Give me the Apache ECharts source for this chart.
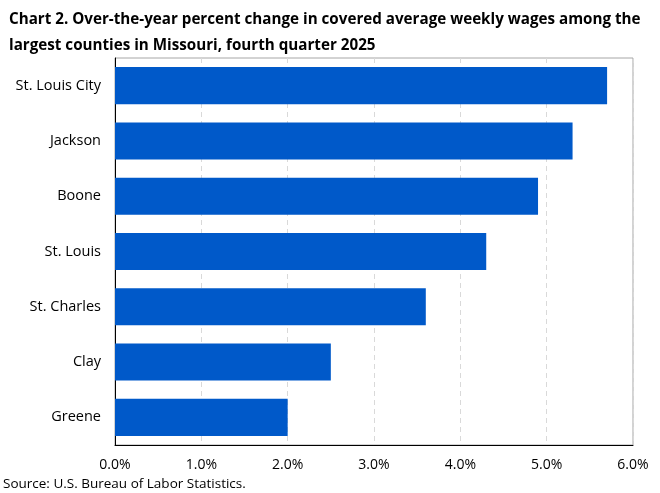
<!DOCTYPE html>
<html>
<head>
<meta charset="utf-8">
<script src="https://cdn.jsdelivr.net/npm/echarts@6/dist/echarts.min.js"></script>
<style>
  html, body { margin: 0; padding: 0; background: #fff; }
  #chart { width: 660px; height: 493px; }
</style>
</head>
<body>
<div id="chart"></div>
<script>
// counties, top to bottom as drawn
var counties = ['St. Louis City', 'Jackson', 'Boone', 'St. Louis', 'St. Charles', 'Clay', 'Greene'];
var wageChange = [5.7, 5.3, 4.9, 4.3, 3.6, 2.5, 2.0];

var font = '"Open Sans", "Noto Sans", sans-serif';

var myChart = echarts.init(document.getElementById('chart'));
var option = {
  animation: false,
  title: {
    text: 'Chart 2. Over-the-year percent change in covered average weekly wages among the\nlargest counties in Missouri, fourth quarter 2025',
    left: 4,
    top: 2,
    textStyle: { fontFamily: font, fontSize: 15.2, fontWeight: 'bold', color: '#000', lineHeight: 26 }
  },
  graphic: [{
    type: 'text',
    left: 3,
    top: 477,
    style: { text: 'Source: U.S. Bureau of Labor Statistics.', fontFamily: font, fontSize: 13.5, fill: '#000' }
  }],
  grid: { left: 115, right: 27, top: 58, bottom: 48, show: true, borderColor: '#a6a6a6', borderWidth: 1 },
  xAxis: {
    type: 'value',
    min: 0,
    max: 6,
    interval: 1,
    axisLine: { show: true, lineStyle: { color: '#000', width: 1 } },
    axisTick: { show: false },
    axisLabel: {
      margin: 13,
      fontFamily: font, fontSize: 14, color: '#000',
      formatter: function (v) { return v.toFixed(1) + '%'; }
    },
    splitLine: { show: true, lineStyle: { color: '#d9d9d9', type: [5, 4] } }
  },
  yAxis: {
    type: 'category',
    inverse: true,
    data: counties,
    axisLine: { show: true, lineStyle: { color: '#000', width: 1 } },
    axisTick: { show: false },
    axisLabel: { margin: 14, fontFamily: font, fontSize: 14.5, color: '#000' }
  },
  series: [{
    type: 'bar',
    data: wageChange,
    barCategoryGap: '33%',
    itemStyle: { color: '#0059c9' }
  }]
};
myChart.setOption(option);
</script>
</body>
</html>
